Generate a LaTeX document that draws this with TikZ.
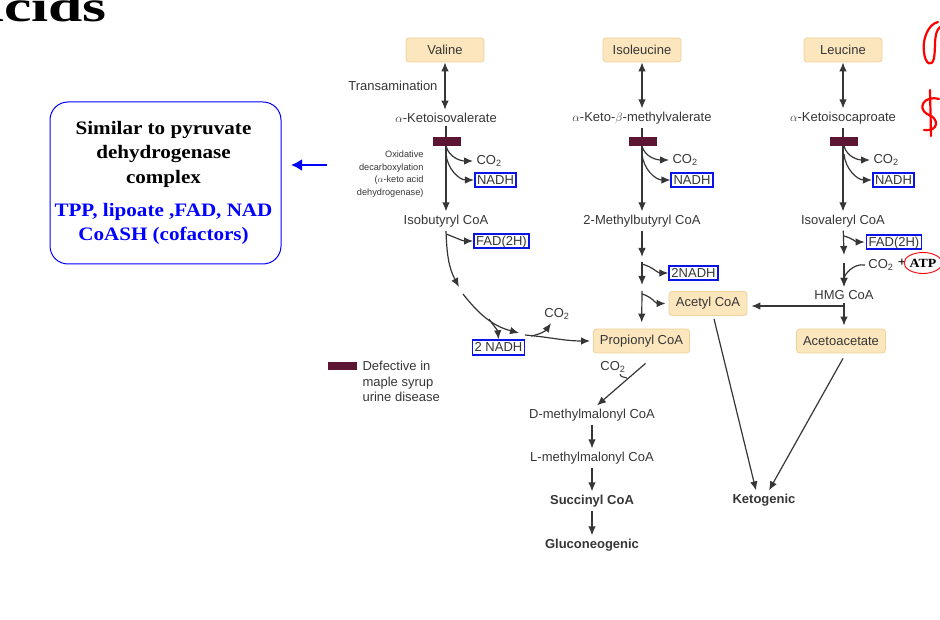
\documentclass[tikz,border=0pt]{standalone}
\usepackage{fontspec}
\setmainfont{Liberation Sans}
\newfontfamily\boxfont[FakeStretch=1.11]{Liberation Serif}
\newfontfamily\titlefont[FakeStretch=1.4]{Liberation Serif}
\usepackage{xcolor}
\usepackage{tikz}
\usetikzlibrary{arrows.meta, positioning, shapes.geometric}

\definecolor{aafill}{HTML}{FCE6BE}
\definecolor{aadraw}{HTML}{EDD29A}
\definecolor{defcol}{HTML}{5C1634}
\definecolor{txt}{HTML}{363636}
\definecolor{enzblue}{HTML}{0A14E6}

\begin{document}
\begin{tikzpicture}[
  x=1pt, y=-1pt, color=txt,
  font=\fontsize{13}{15}\selectfont,
  >={Latex[length=9pt,width=7.5pt]},
  aa/.style={draw=aadraw, fill=aafill, rounded corners=3pt, line width=0.8pt, minimum height=24pt, minimum width=78pt, inner xsep=6.5pt},
  enz/.style={draw=enzblue, line width=1.8pt, inner xsep=2.2pt, inner ysep=2pt, text height=9.4pt, text depth=1.2pt},
  arr/.style={->, line width=1.2pt},
  defect/.style={fill=defcol, draw=none, minimum width=28pt, minimum height=9.5pt, inner sep=0pt},
  note/.style={font=\fontsize{9.2}{12.7}\selectfont, align=right},
  goal/.style={font=\bfseries\fontsize{13}{15}\selectfont},
  scrib/.style={red, line width=2.2pt, line cap=round, line join=round}
]
\useasboundingbox (0,0) rectangle (940,620);

% title (cut at the left edge)
\node[anchor=base east, inner sep=0pt, text=black, font=\titlefont\bfseries\fontsize{44}{44}\selectfont] (title) at (107,22) {Acids};

% cofactor note
\node[draw=blue, rounded corners=18pt, line width=1pt, minimum width=231pt, minimum height=162pt] (cof) at (165.5,183) {};
\node[align=center, text=black, font=\boxfont\bfseries\fontsize{19}{24.5}\selectfont] (cofA) at (163.5,154) {Similar to pyruvate\\dehydrogenase\\complex};
\node[align=center, text=blue, font=\boxfont\bfseries\fontsize{19}{24.5}\selectfont] (cofB) at (163.5,224) {TPP, lipoate ,FAD, NAD\\CoASH (cofactors)};
\coordinate (ptr) at (327,165);
\coordinate (ptrtip) at (291,165);
\draw[blue, line width=2.8pt, -{Latex[length=11pt,width=12pt]}] (ptr) -- (ptrtip);

% valine
\node[aa] (val) at (445,50) {Valine};
\node (kiv) at (446,118) {$\alpha$-Ketoisovalerate};
\node[anchor=east] (trans) at (441,86) {Transamination};
\node[note, anchor=east] (oxd) at (427,174) {Oxidative\\decarboxylation\\($\alpha$-keto acid\\dehydrogenase)};
\node (ibc) at (446,221) {Isobutyryl CoA};
\node[anchor=west] (co2a) at (473,161) {CO\textsubscript{2}};
\node[enz] (nadhA) at (495.5,180) {NADH};
\node[enz] (fadA) at (501.5,241) {FAD(2H)};
\node[enz] (nadhB) at (498.5,347.5) {2 NADH};
\node (co2b) at (557,314) {CO\textsubscript{2}};

% isoleucine
\node[aa] (ile) at (642,50) {Isoleucine};
\node (kmv) at (642,118) {$\alpha$-Keto-$\beta$-methylvalerate};
\node[anchor=west] (co2c) at (669,160) {CO\textsubscript{2}};
\node[enz] (nadhC) at (692,180) {NADH};
\node (mbc) at (642,221) {2-Methylbutyryl CoA};
\node[enz] (nadhD) at (693.5,273) {2NADH};
\node[aa] (acoa) at (708,303.5) {Acetyl CoA};
\node[aa] (prop) at (641.5,341) {Propionyl CoA};

% leucine
\node[aa] (leu) at (843,50) {Leucine};
\node (kic) at (843,118) {$\alpha$-Ketoisocaproate};
\node[anchor=west] (co2d) at (870,160) {CO\textsubscript{2}};
\node[enz] (nadhE) at (893.5,180) {NADH};
\node (ivc) at (843,221) {Isovaleryl CoA};
\node[enz] (fadB) at (894,242) {FAD(2H)};
\node (co2e) at (881,265) {CO\textsubscript{2}};
\node[text=black, font=\boxfont\bfseries\fontsize{13}{15}\selectfont, inner sep=0pt] (plus) at (902,263) {+};
\node[draw=red, ellipse, line width=0.9pt, minimum width=32pt, minimum height=21pt, inner sep=0pt, text=black, font=\boxfont\bfseries\fontsize{12.5}{15}\selectfont] (atp) at (923,263) {ATP};
\node (hmg) at (844,295) {HMG CoA};
\node[aa] (acac) at (841,341) {Acetoacetate};

% lower part
\node (co2f) at (613,367) {CO\textsubscript{2}};
\node (dmm) at (592,415) {D-methylmalonyl CoA};
\node (lmm) at (592,458) {L-methylmalonyl CoA};
\node[goal] (succ) at (592,501) {Succinyl CoA};
\node[goal] (gluc) at (592,545) {Gluconeogenic};
\node[goal] (keto) at (764,500) {Ketogenic};

% legend
\node[defect, minimum width=29pt, minimum height=7pt] (legbar) at (342.5,366) {};
\node[anchor=north west, align=left, font=\fontsize{13}{15.5}\selectfont] (legtxt) at (359,358) {Defective in\\maple syrup\\urine disease};

% valine pathway
\draw[arr, <->] (val) -- (val |- kiv.north);
\draw[arr] (kiv) -- (ibc);
\coordinate (brA1) at (446,146);
\coordinate (brA2) at (446,154);
\draw[arr] (brA1) to[out=-75,in=180] (co2a.west);
\draw[arr] (brA2) to[out=-85,in=180] (nadhA.west);
\coordinate (ibA) at (446,231);
\coordinate (ibA2) at (446,234);
\coordinate (ibB) at (459,287);
\coordinate (ibC) at (463,294);
\coordinate (ibD) at (519,333);
\coordinate (ibE) at (489,319);
\coordinate (ibF) at (525,335);
\coordinate (ibG) at (531,336);
\draw[arr] (ibA2) to[out=-20,in=180] (fadA.west);
\draw[arr] (ibA) to[out=-88,in=118] (ibB);
\draw[arr] (ibC) to[out=-52,in=165] (ibD);
\draw[arr] (ibE) to[out=-55,in=95] (nadhB.north);
\draw[arr] (ibF) to[out=-5,in=180] ([xshift=-3pt]prop.west);
\draw[arr] (ibG) to[out=10,in=-125] ([xshift=-6pt]co2b.south);

% isoleucine pathway
\draw[arr, <->] (ile) -- (kmv);
\draw[arr] (kmv) -- (mbc);
\coordinate (brB1) at (642,146);
\coordinate (brB2) at (642,154);
\draw[arr] (brB1) to[out=-75,in=180] (co2c.west);
\draw[arr] (brB2) to[out=-85,in=180] (nadhC.west);
\coordinate (mB1) at (642,257);
\coordinate (mB2) at (642,262);
\coordinate (mB3) at (642,285);
\coordinate (mB2b) at (642,264);
\coordinate (mB4) at (642,291);
\coordinate (mB4b) at (642,294);
\draw[arr] (mbc) -- (mB1);
\draw[arr] (mB2) -- (mB3);
\draw[arr] (mB2b) to[out=-15,in=180] (nadhD.west);
\draw[arr, shorten >=6pt] (mB4) -- (prop);
\draw[arr] (mB4b) to[out=-15,in=180] ([xshift=-3pt]acoa.west);

% leucine pathway
\draw[arr, <->] (leu) -- (kic);
\draw[arr] (kic) -- (ivc);
\coordinate (brC1) at (844,146);
\coordinate (brC2) at (844,154);
\draw[arr] (brC1) to[out=-75,in=180] (co2d.west);
\draw[arr] (brC2) to[out=-85,in=180] (nadhE.west);
\coordinate (lB0) at (844,236);
\coordinate (lB1) at (844,255);
\coordinate (lB2) at (844,263);
\coordinate (tj) at (844,306);
\draw[arr] (ivc) -- (lB1);
\draw[arr] (lB0) to[out=-15,in=180] ([xshift=-1pt]fadB.west);
\draw[arr] (lB2) -- (hmg.north);
\draw[arr] (co2e.west) to[out=170,in=90] (hmg.north);
\draw[arr, shorten >=3pt] (hmg.south) -- (hmg.south |- acac.north);
\draw[arr, shorten >=4pt] (tj) -- (tj -| acoa.east);

% to the end products
\draw[arr] ([xshift=6pt,yshift=-3pt]acoa.south) -- ([xshift=-8pt]keto.north);
\draw[arr] ([xshift=2pt,yshift=-5pt]acac.south) -- ([xshift=5pt]keto.north);
\draw[arr] ([xshift=4pt,yshift=-10pt]prop.south) -- ([xshift=5pt]dmm.north);
\coordinate (hk) at (627,378);
\draw[line width=1.1pt] ([xshift=7pt,yshift=2pt]co2f.south) to[out=-80,in=160] (hk);
\draw[arr] (dmm) -- (lmm);
\draw[arr] (lmm) -- (succ);
\draw[arr] (succ) -- (gluc);

% defect bars
\node[defect] (barA) at (447,141.5) {};
\node[defect] (barB) at (643,141.5) {};
\node[defect] (barC) at (844,141.5) {};

% handwritten marks
\draw[scrib] (938,22) .. controls (928,24) and (922,40) .. (924,52) .. controls (925,64) and (932,68) .. (934,58) .. controls (936,48) and (933,33) .. (940,27);
\draw[scrib] (930,90) -- (931,136);
\draw[scrib] (939,99) .. controls (924,95) and (917,108) .. (927,114) .. controls (940,118) and (939,132) .. (924,130);
\end{tikzpicture}
\end{document}
